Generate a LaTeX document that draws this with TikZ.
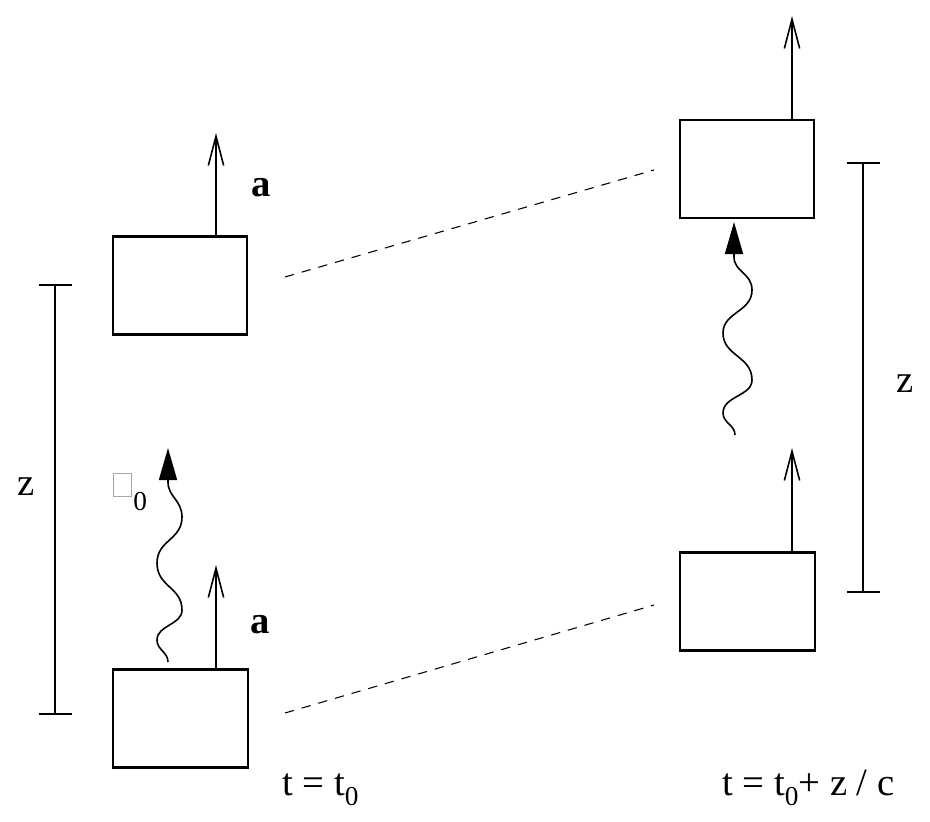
\documentclass[tikz,border=0pt]{standalone}
\usepackage{fontspec}
\setmainfont{Liberation Serif}
\usetikzlibrary{arrows.meta}
\newcommand{\lowsub}[1]{\raisebox{-0.28em}{\fontsize{20.5}{24}\selectfont #1}}
\begin{document}
\begin{tikzpicture}[x=0.75pt,y=-0.75pt,
  box/.style={draw,line width=1.6pt,minimum width=101pt,minimum height=73.5pt,inner sep=0pt},
  vec/.style={line width=1.2pt,-{Straight Barb[length=22pt,width=11.5pt,line width=1.2pt]}},
  photon/.style={line width=1.2pt,-{Triangle[length=24pt,width=13.5pt]}},
  dim/.style={line width=1.3pt},
  guide/.style={line width=0.8pt,dash pattern=on 7pt off 6pt},
  lbl/.style={font=\fontsize{29}{34}\selectfont,inner sep=0pt,anchor=base}]
\useasboundingbox (0,0) rectangle (930,821);
% boxes
\node[box] (LT) at (180,285.5) {};
\node[box] (LB) at (180.5,718.5) {};
\node[box] (RT) at (747,169) {};
\node[box] (RB) at (747.5,601.5) {};
% velocity arrows
\coordinate (aLT) at (216,133);
\coordinate (aLB) at (216,565);
\coordinate (aRT) at (792,16);
\coordinate (aRB) at (792,448);
\draw[vec] (LT.north -| aLT) -- (aLT);
\draw[vec] (LB.north -| aLB) -- (aLB);
\draw[vec] (RT.north -| aRT) -- (aRT);
\draw[vec] (RB.north -| aRB) -- (aRB);
\node[lbl] (la1) at (261,196) {\textbf{a}};
\node[lbl] (la2) at (260,633) {\textbf{a}};
% dimension lines
\coordinate (zl1) at (55,285); \coordinate (zl2) at (55,714);
\coordinate (zr1) at (863,163); \coordinate (zr2) at (863,592);
\draw[dim] (zl1) -- (zl2);
\draw[dim] ([xshift=-12]zl1) -- ([xshift=13]zl1);
\draw[dim] ([xshift=-12]zl2) -- ([xshift=13]zl2);
\draw[dim] (zr1) -- (zr2);
\draw[dim] ([xshift=-12]zr1) -- ([xshift=13]zr1);
\draw[dim] ([xshift=-12]zr2) -- ([xshift=13]zr2);
\node[lbl] (zL) at (26,495) {z};
\node[lbl] (zR) at (905,392) {z};
% dashed guides
\coordinate (g1a) at (285,277); \coordinate (g1b) at (654,170);
\coordinate (g2a) at (285,713); \coordinate (g2b) at (654,605);
\draw[guide] (g1a) -- (g1b);
\draw[guide] (g2a) -- (g2b);
% photons
\draw[photon] (168,662) .. controls (168,652) and (157,650) .. (157,640)
  .. controls (157,625) and (182,625) .. (182,610)
  .. controls (182,587) and (157,587) .. (157,563)
  .. controls (157,540) and (182,540) .. (182,517)
  .. controls (182,500) and (168,497) .. (168,482) -- (168,448);
\draw[photon] (735,435) .. controls (735,425) and (723,423) .. (723,413)
  .. controls (723,396) and (752,396) .. (752,380)
  .. controls (752,356) and (723,356) .. (723,333)
  .. controls (723,312) and (752,312) .. (752,290)
  .. controls (752,273) and (734,272) .. (734,257) -- (734,222);
% omega label (missing glyph box)
\draw[gray!70,line width=0.7pt] (113,473) rectangle (131,496);
\node[inner sep=0pt,anchor=base west,font=\fontsize{20.5}{24}\selectfont] (w0) at (133,510) {0};
% time labels
\node[lbl,anchor=base west] (t1) at (282,795) {t = t\lowsub{0}};
\node[lbl,anchor=base west] (t2) at (722,795) {t = t\lowsub{0}+ z / c};
\end{tikzpicture}
\end{document}
